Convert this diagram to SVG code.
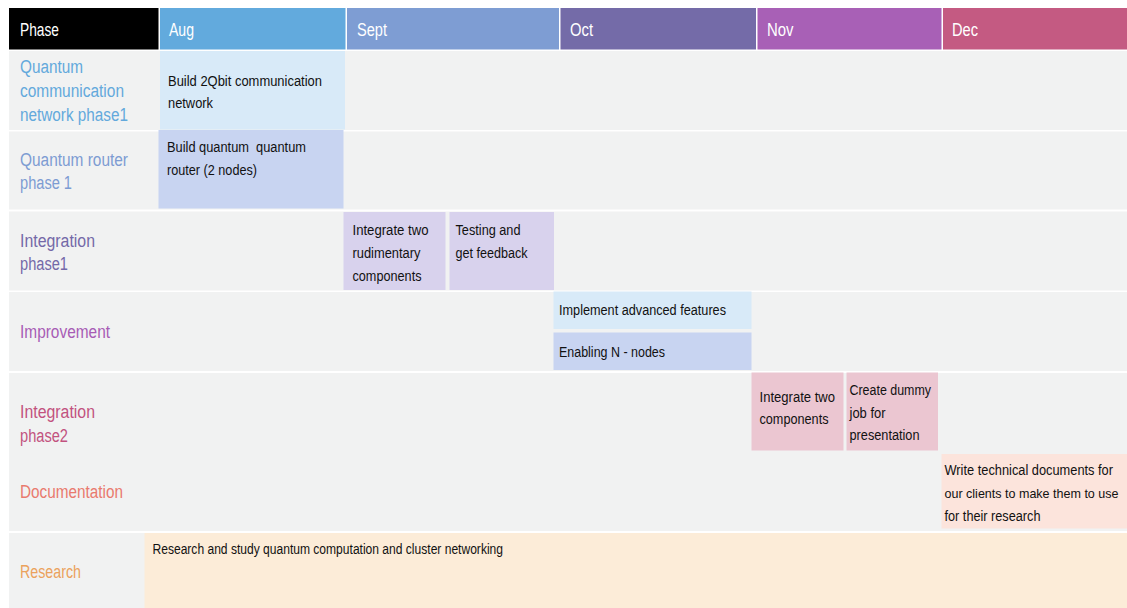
<svg xmlns="http://www.w3.org/2000/svg" width="1127" height="608" viewBox="0 0 1127 608">
<style>
text { font-family: "Liberation Sans", Arial, sans-serif; }
.hd { fill: #ffffff; font-size: 18px; }
.lb { font-size: 18px; }
.tk { fill: #111111; font-size: 14px; }
.row { fill: #f1f2f2; }
</style>
<rect x="0" y="0" width="1127" height="608" fill="#ffffff"/>

<g id="header">
  <rect x="9" y="8" width="149.5" height="41.5" fill="#000000"/>
  <rect x="160" y="8" width="185.5" height="41.5" fill="#62aadd"/>
  <rect x="347" y="8" width="212" height="41.5" fill="#7e9dd3"/>
  <rect x="560.5" y="8" width="195.5" height="41.5" fill="#746ba8"/>
  <rect x="757.5" y="8" width="184" height="41.5" fill="#a860b6"/>
  <rect x="943" y="8" width="184" height="41.5" fill="#c45a82"/>
  <text class="hd" x="20" y="36" textLength="39" lengthAdjust="spacingAndGlyphs">Phase</text>
  <text class="hd" x="169" y="36" textLength="25" lengthAdjust="spacingAndGlyphs">Aug</text>
  <text class="hd" x="357" y="36" textLength="30" lengthAdjust="spacingAndGlyphs">Sept</text>
  <text class="hd" x="570" y="36" textLength="23" lengthAdjust="spacingAndGlyphs">Oct</text>
  <text class="hd" x="767" y="36" textLength="26.5" lengthAdjust="spacingAndGlyphs">Nov</text>
  <text class="hd" x="952" y="36" textLength="26" lengthAdjust="spacingAndGlyphs">Dec</text>
</g>

<g id="rows">
  <rect class="row" x="9" y="51" width="1118" height="79"/>
  <rect class="row" x="9" y="131.5" width="1118" height="78"/>
  <rect class="row" x="9" y="211.5" width="1118" height="79"/>
  <rect class="row" x="9" y="292" width="1118" height="79"/>
  <rect class="row" x="9" y="373" width="1118" height="158"/>
  <rect class="row" x="9" y="533" width="1118" height="75"/>
</g>

<g id="phase-quantum-network">
  <text class="lb" fill="#63a9dc" x="20" y="73" textLength="63" lengthAdjust="spacingAndGlyphs">Quantum</text>
  <text class="lb" fill="#63a9dc" x="20" y="97" textLength="104" lengthAdjust="spacingAndGlyphs">communication</text>
  <text class="lb" fill="#63a9dc" x="20" y="121" textLength="108" lengthAdjust="spacingAndGlyphs">network phase1</text>
</g>
<g id="task-build-2qbit">
  <rect x="160" y="51" width="185" height="78.5" fill="#d8eaf8"/>
  <text class="tk" x="168" y="85.5" textLength="154" lengthAdjust="spacingAndGlyphs">Build 2Qbit communication</text>
  <text class="tk" x="168" y="108" textLength="45" lengthAdjust="spacingAndGlyphs">network</text>
</g>

<g id="phase-quantum-router">
  <text class="lb" fill="#7d9cd2" x="20" y="165.5" textLength="108" lengthAdjust="spacingAndGlyphs">Quantum router</text>
  <text class="lb" fill="#7d9cd2" x="20" y="189" textLength="52" lengthAdjust="spacingAndGlyphs">phase 1</text>
</g>
<g id="task-build-router">
  <rect x="158.5" y="130" width="185" height="78.5" fill="#c8d4f1"/>
  <text class="tk" x="167" y="152" textLength="139" lengthAdjust="spacingAndGlyphs">Build quantum&#160; quantum</text>
  <text class="tk" x="167" y="174.5" textLength="90" lengthAdjust="spacingAndGlyphs">router (2 nodes)</text>
</g>

<g id="phase-integration1">
  <text class="lb" fill="#7469a8" x="20" y="246.5" textLength="75" lengthAdjust="spacingAndGlyphs">Integration</text>
  <text class="lb" fill="#7469a8" x="20" y="270" textLength="48" lengthAdjust="spacingAndGlyphs">phase1</text>
</g>
<g id="task-integrate-rudimentary">
  <rect x="343.5" y="212" width="102" height="78" fill="#d8d2ed"/>
  <text class="tk" x="352.5" y="235" textLength="76" lengthAdjust="spacingAndGlyphs">Integrate two</text>
  <text class="tk" x="352.5" y="258" textLength="68" lengthAdjust="spacingAndGlyphs">rudimentary</text>
  <text class="tk" x="352.5" y="281" textLength="69" lengthAdjust="spacingAndGlyphs">components</text>
</g>
<g id="task-testing">
  <rect x="449.5" y="212" width="104.5" height="78" fill="#d8d2ed"/>
  <text class="tk" x="455.5" y="235" textLength="65" lengthAdjust="spacingAndGlyphs">Testing and</text>
  <text class="tk" x="455.5" y="258" textLength="72" lengthAdjust="spacingAndGlyphs">get feedback</text>
</g>

<g id="phase-improvement">
  <text class="lb" fill="#a75cb5" x="20" y="338" textLength="90" lengthAdjust="spacingAndGlyphs">Improvement</text>
</g>
<g id="task-advanced-features">
  <rect x="553.5" y="291.5" width="198" height="37.5" fill="#d8eaf8"/>
  <text class="tk" x="559" y="315" textLength="167" lengthAdjust="spacingAndGlyphs">Implement advanced features</text>
</g>
<g id="task-n-nodes">
  <rect x="553.5" y="332.5" width="198" height="37.5" fill="#c8d4f1"/>
  <text class="tk" x="559" y="357" textLength="106" lengthAdjust="spacingAndGlyphs">Enabling N - nodes</text>
</g>

<g id="phase-integration2">
  <text class="lb" fill="#c2527f" x="20" y="418" textLength="75" lengthAdjust="spacingAndGlyphs">Integration</text>
  <text class="lb" fill="#c2527f" x="20" y="442" textLength="48" lengthAdjust="spacingAndGlyphs">phase2</text>
</g>
<g id="task-integrate-components">
  <rect x="751.5" y="372.5" width="92" height="78" fill="#ebc6d1"/>
  <text class="tk" x="759.5" y="401.5" textLength="75.5" lengthAdjust="spacingAndGlyphs">Integrate two</text>
  <text class="tk" x="759.5" y="424" textLength="69" lengthAdjust="spacingAndGlyphs">components</text>
</g>
<g id="task-dummy-job">
  <rect x="846.5" y="372.5" width="91.5" height="78" fill="#ebc6d1"/>
  <text class="tk" x="849.5" y="395" textLength="81.5" lengthAdjust="spacingAndGlyphs">Create dummy</text>
  <text class="tk" x="849.5" y="417.5" textLength="36" lengthAdjust="spacingAndGlyphs">job for</text>
  <text class="tk" x="849.5" y="440" textLength="70" lengthAdjust="spacingAndGlyphs">presentation</text>
</g>

<g id="phase-documentation">
  <text class="lb" fill="#e97a6e" x="20" y="498" textLength="103" lengthAdjust="spacingAndGlyphs">Documentation</text>
</g>
<g id="task-technical-docs">
  <rect x="941.5" y="454" width="185.5" height="74.5" fill="#fce4dc"/>
  <text class="tk" x="944.5" y="475" textLength="168.5" lengthAdjust="spacingAndGlyphs">Write technical documents for</text>
  <text class="tk" x="944.5" y="498" style="font-size:13px" textLength="174" lengthAdjust="spacingAndGlyphs">our clients to make them to use</text>
  <text class="tk" x="944.5" y="520.5" textLength="96" lengthAdjust="spacingAndGlyphs">for their research</text>
</g>

<g id="phase-research">
  <text class="lb" fill="#eba25d" x="20" y="578" textLength="61" lengthAdjust="spacingAndGlyphs">Research</text>
</g>
<g id="task-research-study">
  <rect x="144.5" y="533" width="982.5" height="75" fill="#fcecd8"/>
  <text class="tk" x="152.5" y="553.5" textLength="350.5" lengthAdjust="spacingAndGlyphs">Research and study quantum computation and cluster networking</text>
</g>

<g id="connectors"></g>
</svg>
